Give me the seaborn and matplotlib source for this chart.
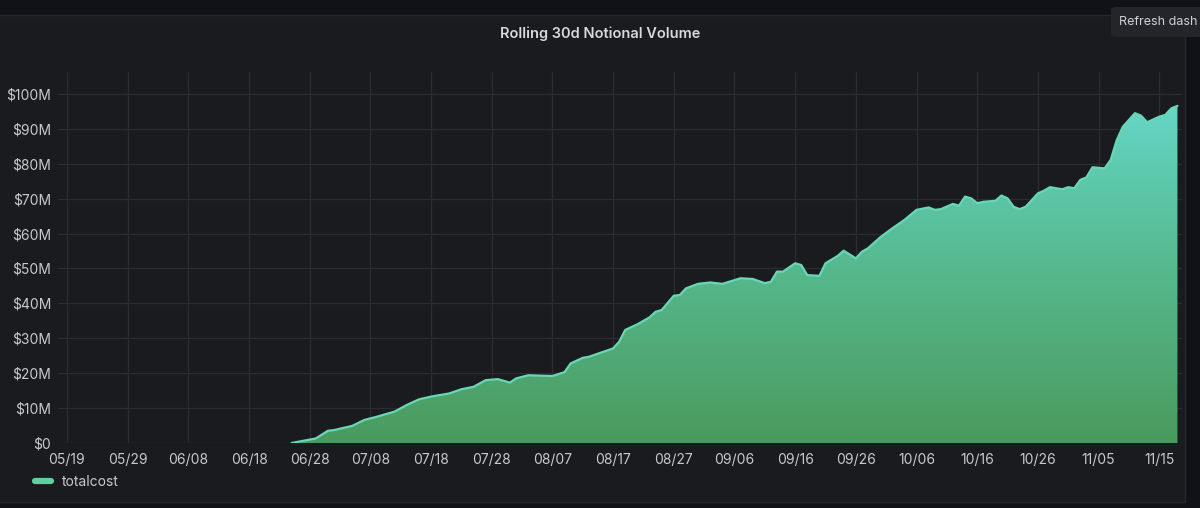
import numpy as np
import pandas as pd
import matplotlib
matplotlib.use("Agg")
import matplotlib.pyplot as plt
import matplotlib.dates as mdates
from matplotlib.colors import LinearSegmentedColormap
from matplotlib.patches import FancyBboxPatch, Rectangle
from matplotlib.lines import Line2D
import seaborn as sns

# ---------------- data (values in $M) ----------------
dates = ["06-25", "06-29", "07-01", "07-02", "07-05", "07-07", "07-09", "07-12",
         "07-14", "07-16", "07-18", "07-21", "07-23", "07-25", "07-27", "07-29",
         "07-31", "08-01", "08-03", "08-05", "08-07", "08-09", "08-10", "08-12",
         "08-13", "08-15", "08-17", "08-18", "08-19", "08-21", "08-23", "08-24",
         "08-25", "08-27", "08-28", "08-29", "08-31", "09-02", "09-04", "09-07",
         "09-09", "09-11", "09-12", "09-13", "09-14", "09-16", "09-17", "09-18",
         "09-20", "09-21", "09-23", "09-24", "09-26", "09-27", "09-28", "09-30",
         "10-02", "10-04", "10-06", "10-08", "10-09", "10-10", "10-12", "10-13",
         "10-14", "10-15", "10-16", "10-17", "10-19", "10-20", "10-21", "10-22",
         "10-23", "10-24", "10-26", "10-27", "10-28", "10-30", "10-31", "11-01",
         "11-02", "11-03", "11-04", "11-06", "11-07", "11-08", "11-09", "11-11",
         "11-12", "11-13", "11-15", "11-16", "11-17", "11-18"]
totalcost = [0.0, 1.3, 3.5, 3.7, 4.9, 6.6, 7.5, 9.0,
             10.9, 12.5, 13.3, 14.2, 15.4, 16.1, 18.0, 18.3,
             17.3, 18.5, 19.4, 19.3, 19.2, 20.3, 22.8, 24.4,
             24.7, 25.9, 27.1, 29.0, 32.4, 34.0, 36.0, 37.6,
             38.1, 42.2, 42.4, 44.3, 45.6, 46.0, 45.6, 47.2,
             47.0, 45.8, 46.2, 49.1, 49.1, 51.5, 51.0, 48.1,
             47.9, 51.5, 53.6, 55.1, 52.9, 54.8, 55.8, 58.9,
             61.5, 63.9, 66.8, 67.5, 66.8, 67.0, 68.5, 68.0,
             70.6, 70.1, 68.7, 69.1, 69.4, 70.9, 70.1, 67.7,
             67.0, 67.7, 71.5, 72.3, 73.3, 72.7, 73.3, 73.0,
             75.4, 76.1, 79.0, 78.7, 81.1, 86.8, 90.6, 94.5,
             93.8, 91.9, 93.5, 94.0, 95.9, 96.6]
y_ticks = [0, 10, 20, 30, 40, 50, 60, 70, 80, 90, 100]
series_name = "totalcost"
title = "Rolling 30d Notional Volume"

df = pd.DataFrame({"date": pd.to_datetime(["2021-" + d for d in dates]),
                   series_name: totalcost})

# ---------------- style ----------------
W, H = 1200, 508
CANVAS = "#111217"
PANEL = "#1a1b1f"
GRID = "#2a2c31"
TEXT = "#c8c9cf"

sns.set_theme(style="dark")
plt.rcParams["font.family"] = ["Inter", "DejaVu Sans"]

fig = plt.figure(figsize=(W / 100, H / 100), dpi=100, facecolor=CANVAS)

# panel background
fig.patches.append(Rectangle((-10 / W, 1 - 502 / H), 1195 / W, 487 / H,
                             transform=fig.transFigure, facecolor=PANEL,
                             edgecolor="#25272c", linewidth=1.0, zorder=-5))

ax = fig.add_axes([58 / W, 65 / H, (1182 - 58) / W, (443 - 72) / H])
ax.set_zorder(1)
ax.set_facecolor(PANEL)

# line via seaborn
sns.lineplot(data=df, x="date", y=series_name, ax=ax, color="#6ad6b4",
             linewidth=1.6, zorder=4, legend=False)

# gradient fill clipped to area under curve
poly = ax.fill_between(df["date"], 0, df[series_name], facecolor="none",
                       edgecolor="none", zorder=2)
ymax = 106.3
xmin = mdates.date2num(pd.Timestamp("2021-05-17 12:30"))
xmax = mdates.date2num(pd.Timestamp("2021-11-18 18:00"))
cmap = LinearSegmentedColormap.from_list(
    "g", [(0.0, "#4a9a5d"), (0.45, "#55b78c"), (0.75, "#5ecbb0"), (1.0, "#6bdcd4")])
grad = np.linspace(0, 1, 256).reshape(-1, 1)
im = ax.imshow(grad, extent=[xmin, xmax, 0, ymax], origin="lower",
               aspect="auto", cmap=cmap, zorder=3)
im.set_clip_path(poly.get_paths()[0], transform=ax.transData)

ax.set_xlim(xmin, xmax)
ax.set_ylim(0, ymax)

# ticks
xt = pd.date_range("2021-05-19", "2021-11-15", freq="10D")
ax.set_xticks(mdates.date2num(xt))
ax.xaxis.set_major_formatter(mdates.DateFormatter("%m/%d"))
ax.set_yticks(y_ticks)
ax.set_yticklabels(["$0" if v == 0 else f"${v}M" for v in y_ticks])
ax.tick_params(axis="both", length=0, colors=TEXT, labelsize=10)
ax.tick_params(axis="x", pad=7)
ax.tick_params(axis="y", pad=5)
ax.set_xlabel("")
ax.set_ylabel("")
ax.grid(True, color=GRID, linewidth=0.9)
ax.set_axisbelow(True)
for s in ax.spines.values():
    s.set_visible(False)

# title
fig.text(600 / W, 1 - 34 / H, title, ha="center", va="center",
         fontsize=10.5, fontweight="semibold", color="#d8d9dc")

# legend
handle = Line2D([0], [0], color="#5fcf9f", linewidth=4.5, solid_capstyle="round")
fig.legend(handles=[handle], labels=[series_name], loc="center left",
           bbox_to_anchor=(22 / W, 1 - 482 / H), frameon=False,
           handlelength=1.2, handletextpad=0.8, fontsize=10, labelcolor=TEXT)

# tooltip remnant at top-right
fig.patches.append(FancyBboxPatch((1111 / W, 1 - 37 / H), 120 / W, 30 / H,
                                  boxstyle="round,pad=0,rounding_size=0.005",
                                  transform=fig.transFigure, facecolor="#23252b",
                                  edgecolor="none", zorder=5))
fig.text(1119 / W, 1 - 22 / H, "Refresh dash", ha="left", va="center",
         fontsize=9.0, color="#d0d1d6", zorder=6)

fig.savefig("out.png", dpi=100, facecolor=CANVAS)
